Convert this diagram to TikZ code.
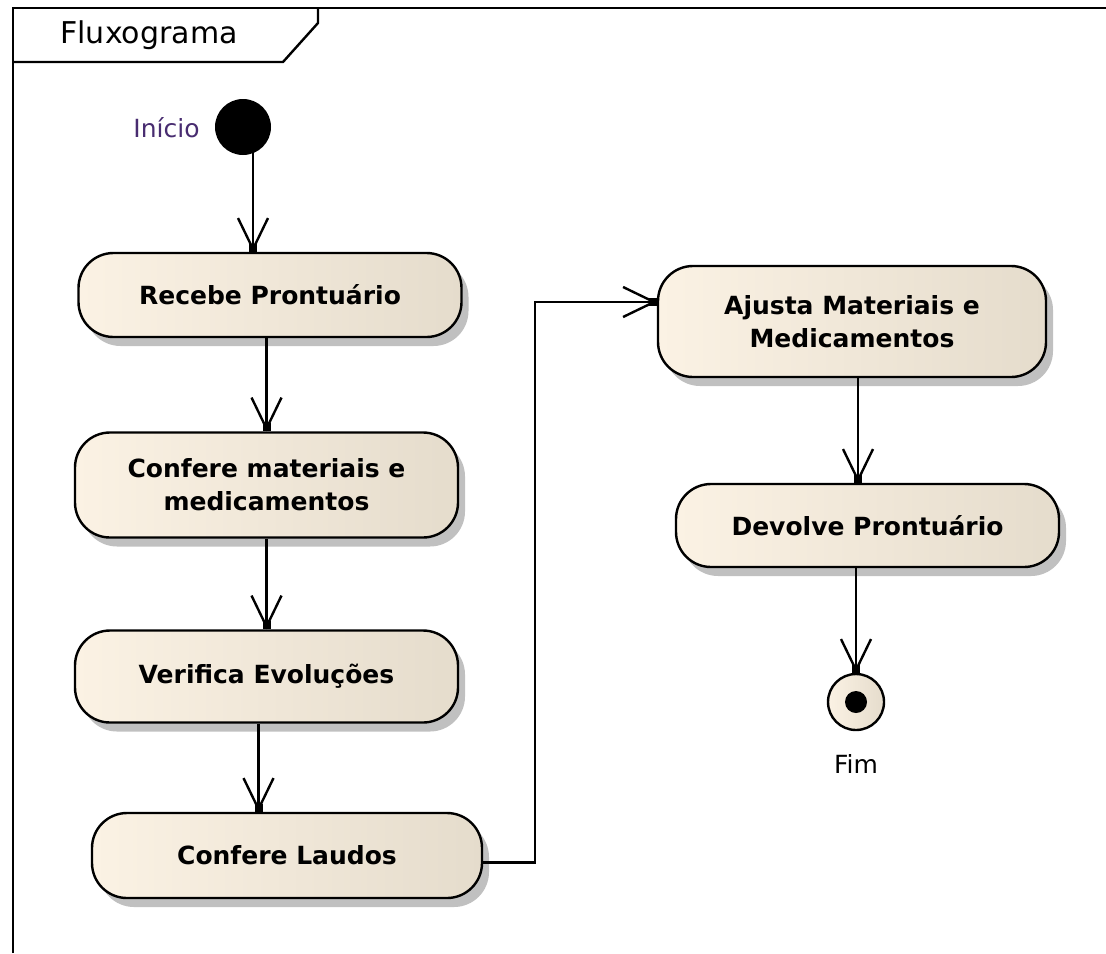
\documentclass[tikz,border=0pt]{standalone}
\usepackage{fontspec}
\setmainfont{DejaVu Sans}
\usepackage{tikz}
\usetikzlibrary{positioning, arrows.meta, shadows}
\definecolor{creme}{RGB}{251,242,228}
\definecolor{bege}{RGB}{229,220,204}
\definecolor{sombra}{RGB}{192,192,192}
\definecolor{roxo}{RGB}{72,44,112}
\tikzstyle{moldura} = [line width=1.2pt]
\tikzstyle{titulo} = [font=\fontsize{15pt}{18pt}\selectfont, inner sep=0pt]
\tikzstyle{lbl} = [font=\fontsize{12.5pt}{15pt}\selectfont, inner sep=0pt]
\tikzstyle{activity} = [rectangle, rounded corners=17.5pt, draw, line width=1.2pt, left color=creme, middle color=creme, right color=bege, drop shadow={shadow xshift=3.5pt, shadow yshift=-4.5pt, fill=sombra, opacity=1}, align=center, font=\fontsize{12.5pt}{16.5pt}\selectfont\bfseries, minimum width=191.5pt, minimum height=42pt, inner sep=0pt]
\tikzstyle{startdot} = [circle, fill=black, minimum size=28pt, inner sep=0pt]
\tikzstyle{enddot} = [circle, draw, line width=1.2pt, left color=creme, middle color=creme, right color=bege, minimum size=28pt, inner sep=0pt, path picture={\fill[black] (path picture bounding box.center) circle (5.5pt);}]
\tikzstyle{flow} = [line width=1.2pt, -{Straight Barb[length=15.5pt, width=15pt, sep=-4pt] Square[length=4pt, width=4pt]}]

\begin{document}
\begin{tikzpicture}[x=0.5pt, y=-0.5pt, node distance=95pt]
    \useasboundingbox (0,0) rectangle (1106,953);
    \draw[moldura] (13,953) -- (13,8) -- (1106,8);
    \draw[moldura] (13,62) -- (283,62) -- (318,23) -- (318,8);
    \node[titulo, anchor=base west] (tit) at (60,43) {Fluxograma};

    \node[startdot] (ini) at (243,127) {};
    \node[lbl, text=roxo, anchor=base east] (inicio) at (200,137) {Início};
    \node[activity] (rec) at (270,295) {Recebe Prontuário};
    \node[activity, below of=rec, xshift=-1.75pt, minimum height=52.5pt] (mat) {Confere materiais e\\medicamentos};
    \node[activity, below of=mat, yshift=-0.75pt, minimum height=46pt] (ver) {Verifica Evoluções};
    \node[activity, below of=ver, xshift=10.25pt, yshift=5.5pt, minimum width=195pt, minimum height=42.5pt] (lau) {Confere Laudos};

    \node[activity, minimum width=194pt, minimum height=55.5pt] (aju) at (852,321.5) {Ajusta Materiais e\\Medicamentos};
    \node[activity, below of=aju, xshift=7.75pt, yshift=-7pt, minimum height=41.5pt] (dev) {Devolve Prontuário};
    \node[enddot, below of=dev, xshift=-5.75pt, yshift=6.75pt] (fin) {};
    \node[lbl, anchor=base] (fim) at (856,773) {Fim};

    \coordinate (dobra) at (535,302);
    \draw[flow] ([xshift=5pt, yshift=1pt]ini.south) -- ([xshift=5pt]ini.south |- rec.north);
    \draw[flow] (rec.south -| mat.north) -- (mat.north);
    \draw[flow] (mat.south) -- (ver.north);
    \draw[flow] ([xshift=-4pt]ver.south) -- ([xshift=-4pt]ver.south |- lau.north);
    \draw[flow] ([yshift=-3.5pt]lau.east) -| (dobra) -- (dobra -| aju.west);
    \draw[flow] ([xshift=3pt]aju.south) -- ([xshift=3pt]aju.south |- dev.north);
    \draw[flow] (dev.south -| fin.north) -- (fin.north);
\end{tikzpicture}
\end{document}
